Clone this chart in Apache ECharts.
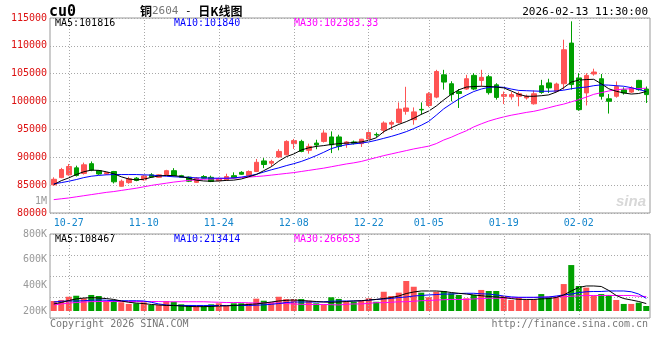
<!DOCTYPE html>
<html><head><meta charset="utf-8">
<script src="https://cdn.jsdelivr.net/npm/echarts@6/dist/echarts.min.js"></script>
<style>html,body{margin:0;padding:0;background:#fff}#c{width:660px;height:360px}</style>
</head><body><div id="c"></div>
<script>
const dates = ['10-23','10-24','10-27','10-28','10-29','10-30','10-31','11-03','11-04','11-05','11-06','11-07',
 '11-10','11-11','11-12','11-13','11-14','11-17','11-18','11-19','11-20','11-21',
 '11-24','11-25','11-26','11-27','11-28','12-01','12-02','12-03','12-04','12-05',
 '12-08','12-09','12-10','12-11','12-12','12-15','12-16','12-17','12-18','12-19',
 '12-22','12-23','12-24','12-25','12-26','12-29','12-30','12-31',
 '01-05','01-06','01-07','01-08','01-09','01-12','01-13','01-14','01-15','01-16',
 '01-19','01-20','01-21','01-22','01-23','01-26','01-27','01-28','01-29','01-30',
 '02-02','02-03','02-04','02-05','02-06','02-09','02-10','02-11','02-12','02-13'];
const dateLabels = ['10-27','11-10','11-24','12-08','12-22','01-05','01-19','02-02'];

const opens  = [85050,86350,86850,88100,87100,88850,87600,87000,87450,84800,85450,86250,85950,86850,86400,86900,87600,86700,86450,85500,
 86550,86400,85800,85950,86700,87300,86700,87450,89350,88950,90050,90450,92450,92850,91250,92550,92850,93650,93650,92400,
 92750,92450,93300,94100,94850,95950,96250,98250,96750,98600,99300,100800,104800,103200,101800,102250,104700,103800,104450,103000,
 100950,100850,100950,100650,99600,102850,103350,101850,103200,110500,104250,101550,104950,104100,100500,100950,102100,101700,103800,102250];
const closes = [86050,87800,88350,86750,88650,87700,87000,87250,85600,85700,86150,85850,86650,86450,86850,87600,86700,86400,85700,86250,
 86250,85650,86150,86550,86300,86950,87450,89100,88700,89250,91050,92850,93000,91050,91950,92200,94350,92250,91950,92750,
 92500,93250,94450,94000,96150,96250,98650,98850,98150,98500,101400,105400,103500,101250,101450,104100,102250,104350,101600,100750,
 101250,101250,101400,100950,101400,101650,102450,103150,109300,103050,98550,104700,105300,100950,100050,102700,101550,102450,102150,101250];
const lows   = [84900,86250,86700,86550,86900,87500,86850,86850,85300,84750,85250,85700,85800,86350,86300,86750,86550,86300,85550,85400,
 86150,85550,85700,85850,86200,86850,86550,87350,88050,88400,89900,90350,91500,90900,90650,91450,92650,90750,91250,91700,
 92300,91850,93200,93600,94300,94900,96050,97650,95850,97650,99000,100600,102150,100050,98850,102100,102050,102750,101250,100350,
 99550,100350,99150,100350,99450,101400,101550,101700,102150,102150,98350,99300,104650,100350,97850,100700,101250,101550,101950,99750];
const highs  = [86400,88100,88800,88500,89050,89250,87700,87350,87550,86000,86500,86450,86800,87150,86950,87750,88050,86850,86550,86450,
 86800,86700,86350,87050,87300,87500,87650,89700,89850,89550,91450,93050,93300,93150,92450,93150,94850,94650,94050,92900,
 93000,93300,94850,94450,96450,96600,99850,102650,98950,99850,101700,105700,105700,103650,102250,104800,105100,105700,104800,103300,
 101800,101700,101800,101250,102000,103900,104100,103400,111100,114400,105100,105100,105900,104950,101350,103600,102550,102750,103900,102700];

const ma5  = [85100,85800,86300,86900,87400,87700,87650,87400,87050,86500,86100,85950,86050,86400,86650,86750,86700,86550,86250,85900,
 85750,85700,85750,85850,85900,86100,86500,86900,87600,88300,89300,90100,90600,91300,91700,91950,92100,92300,92450,92550,
 92650,92750,93050,93500,94600,95300,95900,96400,97000,97700,98300,99200,100300,101300,102100,102600,102700,102750,102700,102600,
 102450,101900,101300,100950,100950,101050,101200,101700,102500,103500,103850,103950,104000,103200,102300,101850,101550,101350,101450,101816];
const ma10 = [85250,85450,85700,86000,86350,86600,86750,86850,86900,86900,86900,86900,86850,86800,86700,86600,86500,86450,86400,86300,
 86300,86250,86250,86250,86300,86450,86650,86950,87350,87750,88100,88500,88850,89250,89750,90300,90900,91550,91950,92250,
 92400,92550,92750,93050,93400,93750,94150,94600,95150,95750,96450,97550,98700,99600,100450,101150,101800,102250,102550,102650,
 102550,102250,102000,101950,101900,101850,101850,101900,102050,102300,102500,102600,102850,103000,102950,102850,102750,102500,102150,101840];
const ma30 = [82400,82550,82700,82900,83100,83300,83500,83700,83850,84050,84250,84450,84700,84950,85150,85350,85550,85700,85850,85950,
 86050,86100,86150,86200,86250,86350,86450,86550,86650,86800,86950,87100,87250,87450,87650,87850,88050,88300,88550,88800,
 89000,89250,89600,89950,90300,90600,90900,91200,91500,91750,92000,92450,93100,93600,94200,94750,95450,96000,96500,96900,
 97250,97550,97800,98050,98250,98550,98900,99250,99550,99950,100350,100800,101300,101600,101900,102100,102250,102300,102350,102383];

const volumes = [278,286,311,319,299,325,317,280,286,268,255,260,268,247,247,278,272,252,247,241,
 241,252,260,239,260,260,260,296,280,268,311,293,293,293,280,260,252,307,294,272,
 272,280,299,272,350,317,343,434,389,343,307,350,356,338,325,299,325,364,356,356,
 317,286,307,286,291,332,307,307,410,558,395,382,319,332,325,286,255,255,265,239].map(v => v * 1000);
const volMa5 = [255,266,282,294,301,304,301,297,290,278,268,262,258,251,247,243,243,239,235,234,
 234,235,239,240,243,247,251,255,262,270,278,283,286,282,278,274,270,268,270,274,
 278,280,286,290,297,305,317,336,348,356,356,356,352,344,338,332,325,319,313,309,
 305,297,291,290,290,294,297,305,325,356,383,395,395,391,360,321,297,286,274,258].map(v => v * 1000);
const volMa10 = [270,276,278,278,280,284,286,284,280,280,280,280,278,268,255,247,243,243,243,243,
 243,243,243,243,243,243,243,245,248,252,258,266,270,270,270,270,272,276,278,278,
 278,280,284,290,294,298,305,309,317,321,325,328,332,332,336,338,338,334,332,325,
 317,310,307,307,307,307,309,317,325,332,343,350,352,352,356,356,356,350,332,299].map(v => v * 1000);
const volMa30 = [247,255,262,266,270,273,274,274,274,274,274,274,274,274,274,272,272,272,272,272,
 272,270,268,266,266,266,264,262,262,262,262,258,255,252,251,251,251,249,247,252,
 255,255,260,265,265,268,272,272,276,280,282,285,288,290,290,290,294,297,299,299,
 301,303,305,305,305,308,310,311,311,315,318,321,321,321,321,321,321,321,315,313].map(v => v * 1000);

const mainHeader = [['MA5:101816', '#000000'], ['MA10:101840', '#0000ff'], ['MA30:102383.33', '#ff00ff']];
const volHeader  = [['MA5:108467', '#000000'], ['MA10:213414', '#0000ff'], ['MA30:266653', '#ff00ff']];
const priceMin = 80000, priceMax = 115000, priceStep = 5000;
const volMin = 200000, volMax = 800000, volStep = 200000;

const UP = '#ff5454', DOWN = '#00a000';
const MONO = "'DejaVu Sans Mono', 'Liberation Mono', monospace";
const GRIDC = '#a8a8a8';
const dotted = { color: GRIDC, type: [1, 2], width: 1 };

const kData = opens.map((o, i) => [o, closes[i], lows[i], highs[i]]);
const volData = volumes.map((v, i) => ({ value: v, itemStyle: { color: closes[i] >= opens[i] ? UP : DOWN } }));
const vLines = dateLabels.map(d => ({ xAxis: d }));

const chart = echarts.init(document.getElementById('c'), null, { renderer: 'canvas' });
const headerTexts = (arr, y) => arr.map((h, k) => ({
  type: 'text', x: [55, 174, 294][k], y: y,
  style: { text: h[0], fill: h[1], font: '10px ' + MONO, textVerticalAlign: 'middle', verticalAlign: 'middle' }
}));

chart.setOption({
  animation: false,
  backgroundColor: '#ffffff',
  grid: [
    { left: 50, top: 18, width: 600, height: 195, show: true, borderColor: '#999', borderWidth: 1, backgroundColor: 'transparent' },
    { left: 50, top: 234, width: 600, height: 84, show: true, borderColor: '#999', borderWidth: 1, backgroundColor: 'transparent' },
    { left: 50, top: 234, width: 600, height: 77 }
  ],
  xAxis: [
    { type: 'category', gridIndex: 0, data: dates, boundaryGap: true,
      axisLine: { show: false }, axisTick: { show: false }, splitLine: { show: false },
      axisLabel: { interval: (idx, val) => dateLabels.includes(val), color: '#1586cc', fontFamily: MONO, fontSize: 10, margin: 5 } },
    { type: 'category', gridIndex: 1, data: dates, boundaryGap: true, show: false },
    { type: 'category', gridIndex: 2, data: dates, boundaryGap: true, show: false }
  ],
  yAxis: [
    { type: 'value', gridIndex: 0, min: priceMin, max: priceMax, interval: priceStep,
      axisLine: { show: false }, axisTick: { show: false },
      splitLine: { show: true, lineStyle: dotted },
      axisLabel: { color: '#dd1111', fontFamily: MONO, fontSize: 10, margin: 3, formatter: v => String(v) } },
    { type: 'value', gridIndex: 1, min: 0, max: 4, interval: 1,
      axisLine: { show: false }, axisTick: { show: false }, axisLabel: { show: false },
      splitLine: { show: true, lineStyle: dotted } },
    { type: 'value', gridIndex: 2, min: volMin, max: volMax, interval: volStep,
      axisLine: { show: false }, axisTick: { show: false }, splitLine: { show: false },
      axisLabel: { color: '#999', fontFamily: MONO, fontSize: 10, margin: 3, formatter: v => (v / 1000) + 'K' } }
  ],
  series: [
    { type: 'candlestick', xAxisIndex: 0, yAxisIndex: 0, data: kData, barWidth: 5,
      itemStyle: { color: UP, color0: DOWN, borderColor: UP, borderColor0: DOWN, borderWidth: 1 },
      markLine: { silent: true, symbol: 'none', label: { show: false }, lineStyle: dotted, data: vLines } },
    { type: 'line', xAxisIndex: 0, yAxisIndex: 0, data: ma30, symbol: 'none', lineStyle: { color: '#ff00ff', width: 1 } },
    { type: 'line', xAxisIndex: 0, yAxisIndex: 0, data: ma10, symbol: 'none', lineStyle: { color: '#0000ff', width: 1 } },
    { type: 'line', xAxisIndex: 0, yAxisIndex: 0, data: ma5, symbol: 'none', lineStyle: { color: '#000000', width: 1 } },
    { type: 'line', xAxisIndex: 1, yAxisIndex: 1, data: [], symbol: 'none',
      markLine: { silent: true, symbol: 'none', label: { show: false }, lineStyle: dotted, data: vLines } },
    { type: 'bar', xAxisIndex: 2, yAxisIndex: 2, data: volData, barWidth: 6 },
    { type: 'line', xAxisIndex: 2, yAxisIndex: 2, data: volMa30, symbol: 'none', lineStyle: { color: '#ff00ff', width: 1 } },
    { type: 'line', xAxisIndex: 2, yAxisIndex: 2, data: volMa10, symbol: 'none', lineStyle: { color: '#0000ff', width: 1 } },
    { type: 'line', xAxisIndex: 2, yAxisIndex: 2, data: volMa5, symbol: 'none', lineStyle: { color: '#000000', width: 1 } }
  ],
  graphic: [
    { type: 'text', x: 49, y: 12, style: { text: 'cu0', fill: '#000', font: 'bold 15px ' + MONO, textVerticalAlign: 'middle', verticalAlign: 'middle' } },
    { type: 'text', x: 140, y: 11, style: {
        text: '{a|铜}{b|2604}{c| - }{a|日K线图}', textVerticalAlign: 'middle', verticalAlign: 'middle',
        rich: { a: { fontFamily: "'Noto Sans CJK SC'", fontSize: 12, fill: '#000', fontWeight: 'bold' },
                b: { fontFamily: MONO, fontSize: 11, fill: '#777' },
                c: { fontFamily: MONO, fontSize: 11, fill: '#000' } } } },
    { type: 'text', x: 648, y: 12, style: { text: '2026-02-13 11:30:00', fill: '#000', font: '11px ' + MONO, textAlign: 'right', align: 'right', textVerticalAlign: 'middle', verticalAlign: 'middle' } },
    ...headerTexts(mainHeader, 23),
    ...headerTexts(volHeader, 239),
    { type: 'text', x: 47, y: 201, style: { text: '1M', fill: '#999', font: '10px ' + MONO, textAlign: 'right', align: 'right', textVerticalAlign: 'middle', verticalAlign: 'middle' } },
    { type: 'text', x: 50, y: 324, style: { text: 'Copyright 2026 SINA.COM', fill: '#777', font: '10px ' + MONO, textVerticalAlign: 'middle', verticalAlign: 'middle' } },
    { type: 'text', x: 648, y: 324, style: { text: 'http://finance.sina.com.cn', fill: '#777', font: '10px ' + MONO, textAlign: 'right', align: 'right', textVerticalAlign: 'middle', verticalAlign: 'middle' } },
    { type: 'text', x: 646, y: 202, style: { text: 'sina', fill: '#d8d8d8', font: 'italic bold 15px Arial, sans-serif', textAlign: 'right', align: 'right', textVerticalAlign: 'middle', verticalAlign: 'middle' } }
  ]
});
</script></body></html>
